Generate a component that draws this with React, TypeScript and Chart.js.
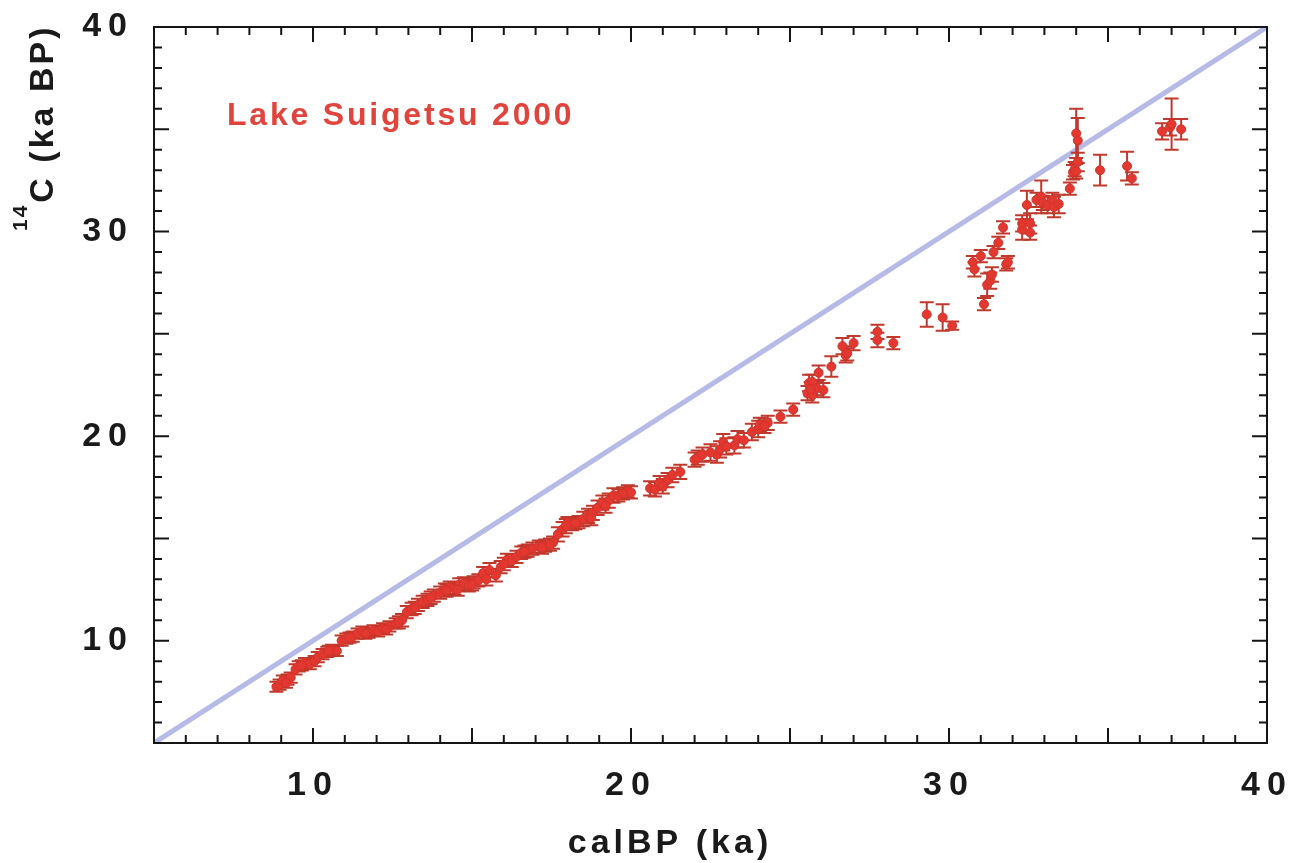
import React, { useEffect, useRef } from "react";
import { Chart, registerables } from "chart.js";

Chart.register(...registerables);

// Calibrated age (ka, varve) of each Lake Suigetsu sample
const calAge = [
  8.85, 8.95, 9.05, 9.2, 9.3, 9.45, 9.55, 9.75, 9.9, 10.05, 10.15, 10.3, 10.45, 10.6, 10.75, 10.9,
  11.05, 11.25, 11.4, 11.55, 11.75, 11.9, 12.05, 12.2, 12.4, 12.6, 12.8, 12.95, 13.1, 13.3, 13.45,
  13.6, 13.8, 14.0, 14.15, 14.3, 14.45, 14.6, 14.75, 14.9, 15.05, 15.2, 15.35, 15.55, 15.75, 15.9,
  16.1, 16.25, 16.4, 16.55, 16.75, 16.9, 17.1, 17.3, 17.55, 17.7, 17.85, 18.0, 18.15, 18.35, 18.5,
  18.65, 18.8, 18.95, 19.1, 19.3, 19.45, 19.6, 19.9, 20.6, 20.75, 20.9, 21.15, 21.3, 21.55, 22.0,
  22.1, 22.25, 22.7, 22.8, 22.9, 23.25, 23.35, 23.55, 23.8, 24.0, 24.05, 24.3, 24.7, 25.1, 25.55,
  25.6, 25.7, 25.7, 25.85, 25.9, 26.05, 26.3, 26.65, 26.75, 26.8, 27.0, 27.75, 27.75, 28.25, 29.3,
  29.8, 30.1, 30.75, 30.8, 31.0, 31.1, 31.2, 31.3, 31.35, 31.4, 31.55, 31.7, 31.8, 31.85, 32.3,
  32.3, 32.45, 32.55, 32.55, 32.75, 32.9, 32.95, 33.1, 33.25, 33.3, 33.45, 33.8, 33.9, 33.95, 34.0,
  34.05, 34.0, 34.05, 34.75, 35.6, 35.75, 36.7, 36.95, 37.0, 37.3,
  9.15, 9.65, 10.5, 11.15, 11.65, 12.3, 12.7, 13.2, 13.7, 14.2, 14.55, 15.0, 15.45, 16.0, 16.65,
  17.2, 17.45, 17.95, 18.25, 18.75, 19.2, 19.75, 20.0, 21.0, 22.5, 23.0, 24.2, 25.65,
];

// Radiocarbon age (14C ka BP)
const c14Age = [
  7.75, 7.85, 8.05, 8.1, 8.2, 8.6, 8.75, 8.9, 8.85, 9.0, 9.2, 9.35, 9.45, 9.55, 9.5, 10.0,
  10.1, 10.2, 10.35, 10.45, 10.4, 10.5, 10.45, 10.6, 10.7, 10.85, 11.0, 11.4, 11.55, 11.75, 11.9,
  12.0, 12.2, 12.35, 12.5, 12.6, 12.55, 12.75, 12.8, 12.7, 12.85, 12.95, 13.3, 13.45, 13.2, 13.6,
  13.95, 13.9, 14.1, 14.3, 14.4, 14.5, 14.6, 14.65, 14.8, 15.2, 15.45, 15.75, 15.7, 15.8, 15.95,
  16.1, 16.25, 16.5, 16.75, 16.85, 17.1, 17.1, 17.3, 17.45, 17.4, 17.7, 17.85, 18.1, 18.25, 18.85,
  18.95, 19.1, 19.1, 19.35, 19.7, 19.55, 19.85, 19.8, 20.2, 20.35, 20.55, 20.65, 20.95, 21.3, 22.1,
  22.6, 22.0, 22.65, 22.35, 23.1, 22.25, 23.4, 24.4, 23.95, 24.05, 24.55, 24.7, 25.1, 24.55, 25.95,
  25.8, 25.4, 28.5, 28.15, 28.8, 26.45, 27.4, 27.6, 27.9, 29.0, 29.45, 30.2, 28.4, 28.5, 30.1,
  30.4, 31.3, 30.4, 29.95, 31.55, 31.7, 31.4, 31.3, 31.55, 31.2, 31.35, 32.1, 32.9, 33.05, 32.95,
  33.4, 34.8, 34.45, 33.0, 33.2, 32.6, 34.9, 35.1, 35.25, 35.0,
  7.95, 8.8, 9.5, 10.15, 10.35, 10.55, 10.9, 11.6, 12.1, 12.45, 12.5, 12.75, 13.0, 13.75, 14.35,
  14.55, 14.7, 15.6, 15.75, 16.0, 16.6, 17.2, 17.25, 17.55, 19.2, 19.5, 20.5, 22.3,
];

// 1-sigma uncertainty of the radiocarbon age (ka)
const c14Err = [
  0.25, 0.25, 0.25, 0.25, 0.25, 0.25, 0.25, 0.25, 0.25, 0.25, 0.25, 0.25, 0.25, 0.25, 0.25, 0.25,
  0.25, 0.25, 0.25, 0.25, 0.25, 0.25, 0.25, 0.25, 0.25, 0.25, 0.3, 0.3, 0.3, 0.3, 0.3,
  0.3, 0.3, 0.3, 0.3, 0.3, 0.3, 0.3, 0.3, 0.3, 0.3, 0.3, 0.3, 0.35, 0.3, 0.3,
  0.3, 0.3, 0.3, 0.3, 0.3, 0.3, 0.3, 0.3, 0.3, 0.35, 0.35, 0.3, 0.3, 0.3, 0.35,
  0.35, 0.35, 0.35, 0.35, 0.35, 0.35, 0.3, 0.3, 0.35, 0.35, 0.35, 0.35, 0.35, 0.35, 0.35,
  0.35, 0.35, 0.4, 0.4, 0.4, 0.4, 0.4, 0.35, 0.4, 0.4, 0.35, 0.35, 0.3, 0.3, 0.35,
  0.4, 0.35, 0.35, 0.35, 0.35, 0.35, 0.5, 0.4, 0.35, 0.35, 0.35, 0.35, 0.35, 0.3, 0.6,
  0.65, 0.2, 0.3, 0.35, 0.3, 0.3, 0.55, 0.4, 0.35, 0.3, 0.3, 0.3, 0.3, 0.3, 0.5,
  0.4, 0.7, 0.5, 0.35, 0.35, 0.8, 0.35, 0.4, 0.35, 0.5, 0.45, 0.3, 0.35, 0.35, 0.35,
  0.45, 1.2, 1.1, 0.75, 0.7, 0.3, 0.4, 0.4, 1.25, 0.5,
  0.25, 0.25, 0.25, 0.25, 0.25, 0.25, 0.3, 0.3, 0.3, 0.3, 0.3, 0.3, 0.3, 0.3, 0.3,
  0.3, 0.3, 0.35, 0.3, 0.35, 0.35, 0.3, 0.3, 0.35, 0.4, 0.4, 0.35, 0.35,
];

// 1:1 reference line
const lineX = [5, 40];
const lineY = [5, 40];

const xTickLabels = [10, 20, 30, 40];
const yTickLabels = [10, 20, 30, 40];

const seriesLabel = "Lake Suigetsu 2000";
const xTitle = "calBP (ka)";
const yTitleSup = "14";
const yTitleMain = "C (ka BP)";

const FONT = "'Liberation Sans', Arial, Helvetica, sans-serif";

export default function App() {
  const canvasRef = useRef<HTMLCanvasElement | null>(null);

  useEffect(() => {
    document.body.style.margin = "0";
    const canvas = canvasRef.current;
    if (!canvas) return;

    const frameAndText = {
      id: "frameAndText",
      beforeDraw(chart: any) {
        const ctx = chart.ctx;
        ctx.save();
        ctx.fillStyle = "#ffffff";
        ctx.fillRect(0, 0, chart.width, chart.height);
        ctx.restore();
        ctx.letterSpacing = "7px";
      },
      beforeDatasetDraw(chart: any, args: any) {
        if (args.index !== 1) return;
        const ctx = chart.ctx;
        const xs = chart.scales.x;
        const ys = chart.scales.y;
        ctx.save();
        ctx.strokeStyle = "#c0392c";
        ctx.lineWidth = 2;
        const cap = 7;
        for (let i = 0; i < calAge.length; i++) {
          const px = xs.getPixelForValue(calAge[i]);
          const top = ys.getPixelForValue(c14Age[i] + c14Err[i]);
          const bot = ys.getPixelForValue(c14Age[i] - c14Err[i]);
          ctx.beginPath();
          ctx.moveTo(px, top);
          ctx.lineTo(px, bot);
          ctx.moveTo(px - cap, top);
          ctx.lineTo(px + cap, top);
          ctx.moveTo(px - cap, bot);
          ctx.lineTo(px + cap, bot);
          ctx.stroke();
        }
        ctx.restore();
      },
      afterDraw(chart: any) {
        const ctx = chart.ctx;
        ctx.letterSpacing = "0px";
        const a = chart.chartArea;
        const xs = chart.scales.x;
        const ys = chart.scales.y;
        ctx.save();
        ctx.strokeStyle = "#151515";
        ctx.lineWidth = 2;
        ctx.strokeRect(a.left, a.top, a.right - a.left, a.bottom - a.top);
        ctx.beginPath();
        for (let v = 6; v < 40; v++) {
          const len = v % 5 === 0 ? 15 : 8;
          const px = xs.getPixelForValue(v);
          ctx.moveTo(px, a.bottom);
          ctx.lineTo(px, a.bottom - len);
          ctx.moveTo(px, a.top);
          ctx.lineTo(px, a.top + len);
          const py = ys.getPixelForValue(v);
          ctx.moveTo(a.left, py);
          ctx.lineTo(a.left + len, py);
          ctx.moveTo(a.right, py);
          ctx.lineTo(a.right - len, py);
        }
        ctx.stroke();

        // series label
        ctx.fillStyle = "#e0443c";
        ctx.font = `bold 32px ${FONT}`;
        ctx.letterSpacing = "2.8px";
        ctx.textAlign = "left";
        ctx.textBaseline = "alphabetic";
        ctx.fillText(seriesLabel, 227, 125);

        // x title
        ctx.fillStyle = "#1a1a1a";
        ctx.font = `bold 34px ${FONT}`;
        ctx.letterSpacing = "4px";
        ctx.textAlign = "center";
        ctx.fillText(xTitle, 670, 853);

        // y title (rotated, with superscript)
        ctx.translate(53, 231);
        ctx.rotate(-Math.PI / 2);
        ctx.textAlign = "left";
        ctx.font = `bold 21px ${FONT}`;
        ctx.letterSpacing = "2px";
        ctx.fillText(yTitleSup, 0, -26);
        const supW = ctx.measureText(yTitleSup).width;
        ctx.font = `bold 34px ${FONT}`;
        ctx.letterSpacing = "3px";
        ctx.fillText(yTitleMain, supW + 1, 0);
        ctx.restore();
        ctx.letterSpacing = "0px";
      },
    };

    const chart = new Chart(canvas, {
      type: "scatter",
      data: {
        datasets: [
          {
            type: "line",
            label: "1:1",
            data: lineX.map((x, i) => ({ x, y: lineY[i] })),
            borderColor: "#b5bae6",
            borderWidth: 5,
            pointRadius: 0,
            fill: false,
            order: 2,
          } as any,
          {
            type: "scatter",
            label: seriesLabel,
            data: calAge.map((x, i) => ({ x, y: c14Age[i] })),
            backgroundColor: "#e2382f",
            borderColor: "#d3332b",
            borderWidth: 1,
            pointRadius: 4.5,
            order: 1,
          },
        ],
      },
      options: {
        responsive: false,
        animation: false,
        layout: { padding: { top: 27, right: 34, left: 0, bottom: 0 } },
        plugins: {
          legend: { display: false },
          tooltip: { enabled: false },
        },
        scales: {
          x: {
            type: "linear",
            min: 5,
            max: 40,
            grid: { display: false, drawTicks: false },
            border: { display: false },
            afterFit: (s: any) => {
              s.height = 120;
              s.paddingLeft = 0;
              s.paddingRight = 0;
            },
            ticks: {
              stepSize: 5,
              autoSkip: false,
              maxRotation: 0,
              padding: 22,
              color: "#1a1a1a",
              font: { family: FONT, size: 34, weight: "bold" },
              callback: (v: any) => (xTickLabels.includes(Number(v)) ? String(v) : ""),
            },
          },
          y: {
            type: "linear",
            min: 5,
            max: 40,
            grid: { display: false, drawTicks: false },
            border: { display: false },
            afterFit: (s: any) => {
              s.width = 154;
              s.paddingTop = 0;
              s.paddingBottom = 0;
            },
            ticks: {
              stepSize: 5,
              autoSkip: false,
              padding: 20,
              color: "#1a1a1a",
              font: { family: FONT, size: 34, weight: "bold" },
              callback: (v: any) => (yTickLabels.includes(Number(v)) ? String(v) : ""),
            },
          },
        },
      },
      plugins: [frameAndText],
    });

    return () => {
      chart.destroy();
    };
  }, []);

  return (
    <div style={{ width: 1301, height: 863 }}>
      <canvas ref={canvasRef} width={1301} height={863} style={{ display: "block" }} />
    </div>
  );
}
